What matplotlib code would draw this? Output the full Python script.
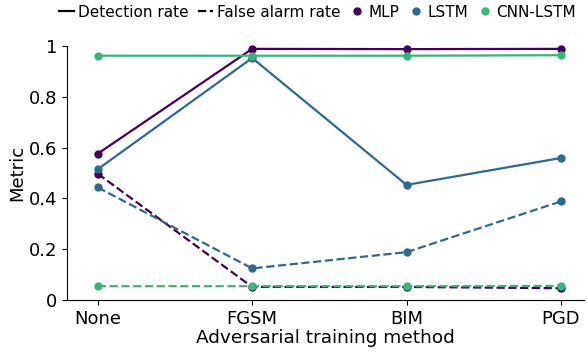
import matplotlib.pyplot as plt
from matplotlib.lines import Line2D

methods = ["None", "FGSM", "BIM", "PGD"]
models = ["MLP", "LSTM", "CNN-LSTM"]
colors = ["#440154", "#31688e", "#35b779"]

# detection rate per model
dr_mlp = [0.576, 0.989, 0.988, 0.989]
dr_lstm = [0.515, 0.953, 0.453, 0.559]
dr_cnn = [0.962, 0.962, 0.962, 0.964]
# false alarm rate per model
far_mlp = [0.497, 0.051, 0.051, 0.046]
far_lstm = [0.443, 0.124, 0.188, 0.388]
far_cnn = [0.054, 0.054, 0.054, 0.055]

dr = [dr_mlp, dr_lstm, dr_cnn]
far = [far_mlp, far_lstm, far_cnn]

fig = plt.figure(figsize=(5.87, 3.6), dpi=100)
ax = fig.add_axes([0.114, 0.167, 0.881, 0.705])
x = range(len(methods))
for m in range(len(models)):
    ax.plot(x, dr[m], color=colors[m], lw=1.6, marker="o", ms=5, clip_on=False)
    ax.plot(x, far[m], color=colors[m], lw=1.6, ls="--", marker="o", ms=5, clip_on=False)

ax.set_xlim(-0.2, 3.15)
ax.set_ylim(0, 1)
ax.set_xticks(list(x))
ax.set_xticklabels(methods)
ax.set_yticks([0, 0.2, 0.4, 0.6, 0.8, 1])
ax.set_yticklabels(["0", "0.2", "0.4", "0.6", "0.8", "1"])
ax.tick_params(labelsize=13)
ax.set_xlabel("Adversarial training method", fontsize=13.3, labelpad=1)
ax.set_ylabel("Metric", fontsize=13, labelpad=2)
ax.spines["top"].set_visible(False)
ax.spines["right"].set_visible(False)

handles = [Line2D([], [], color="black", lw=1.6),
           Line2D([], [], color="black", lw=1.6, ls="--")]
labels = ["Detection rate", "False alarm rate"]
for m in range(len(models)):
    handles.append(Line2D([], [], color=colors[m], ls="", marker="o", ms=5))
    labels.append(models[m])
fig.legend(handles, labels, loc="upper right", bbox_to_anchor=(1.005, 1.025), ncol=5,
           frameon=False, fontsize=11, handlelength=1.0, handletextpad=0.25,
           columnspacing=0.6)

fig.savefig("out.png", dpi=100)
